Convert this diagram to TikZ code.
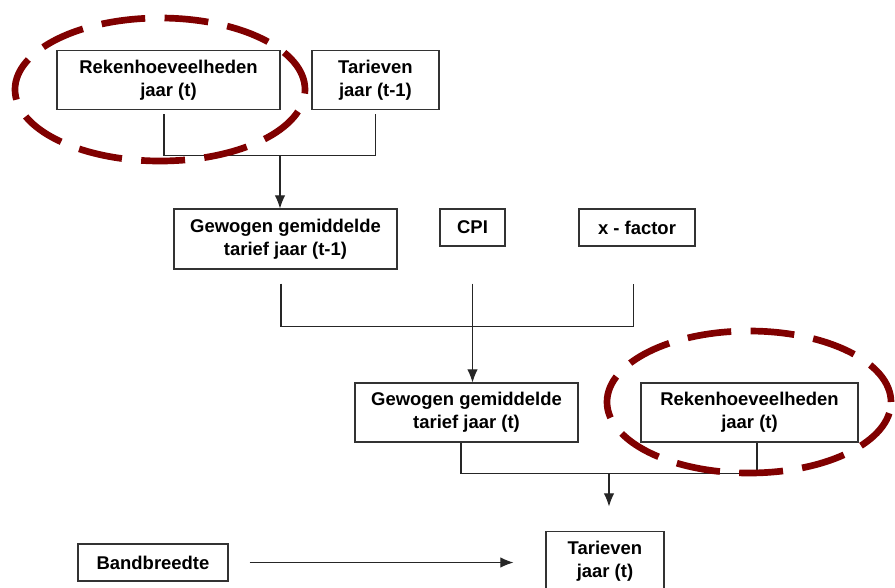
\documentclass[tikz,border=0pt]{standalone}
\usepackage{fontspec}
\setmainfont{Liberation Sans}
\usepackage{xcolor}
\usetikzlibrary{positioning,calc,arrows.meta}
\definecolor{ovalred}{RGB}{128,0,0}

\begin{document}
\begin{tikzpicture}[
    node distance=1.5cm,
    box/.style={rectangle, draw=black!80, line width=0.6pt, align=center, inner sep=0pt, font=\fontsize{10.5}{13}\selectfont\bfseries},
    widebox/.style={box, minimum width=4.46cm, minimum height=1.18cm},
    smallbox/.style={box, minimum height=0.74cm},
    link/.style={draw=black!85, line width=0.6pt},
    arrow/.style={link, -{Latex[length=7.5pt,width=6pt]}},
    oval/.style={draw=ovalred, line width=3.8pt, dash pattern=on 25pt off 11pt}
]
\useasboundingbox (0,0) rectangle (17.9,-11.74);

% Inputs year t-1
\node[widebox] (rek1) at (3.37,-1.60) {Rekenhoeveelheden\\jaar (t)};
\node[box, minimum width=2.54cm, minimum height=1.18cm, right of=rek1, xshift=2.64cm] (tar1) {Tarieven\\jaar (t-1)};

% Weighted average and factors
\node[widebox, minimum height=1.2cm, below of=rek1, xshift=2.34cm, yshift=-1.68cm] (ggt1) {Gewogen gemiddelde\\tarief jaar (t-1)};
\node[smallbox, minimum width=1.3cm, right of=ggt1, xshift=2.24cm, yshift=0.23cm] (cpi) {CPI};
\node[smallbox, minimum width=2.32cm, right of=cpi, xshift=1.79cm] (xfactor) {x - factor};

% Year t
\node[widebox, below of=ggt1, xshift=3.62cm, yshift=-1.97cm] (ggt2) {Gewogen gemiddelde\\tarief jaar (t)};
\node[box, minimum width=4.34cm, minimum height=1.18cm, right of=ggt2, xshift=4.16cm] (rek2) {Rekenhoeveelheden\\jaar (t)};

% Result
\node[box, minimum width=2.36cm, minimum height=1.18cm, below of=ggt2, xshift=2.77cm, yshift=-1.47cm] (tar2) {Tarieven\\jaar (t)};
\node[smallbox, minimum width=3.0cm, left of=tar2, xshift=-7.54cm, yshift=-0.03cm] (band) {Bandbreedte};

% Connections
\coordinate (j1) at ($(ggt1.north)+(-0.11,1.06)$);
\draw[link] ($(rek1.south)+(-0.09,-0.08)$) |- (j1) -| ($(tar1.south)+(0,-0.08)$);
\draw[arrow] (j1) -- ($(ggt1.north)+(-0.11,0)$);

\coordinate (j2) at ($(cpi.south)+(0,-1.6)$);
\draw[link] ($(ggt1.south)+(-0.09,-0.28)$) |- (j2) -| ($(xfactor.south)+(-0.07,-0.74)$);
\draw[arrow] ($(cpi.south)+(0,-0.74)$) -- (cpi.south |- ggt2.north);

\coordinate (j3) at ($(tar2.north)+(0.08,1.15)$);
\draw[link] ($(ggt2.south)+(-0.11,0)$) |- (j3) -| ($(rek2.south)+(0.15,0)$);
\draw[arrow] (j3) -- ($(tar2.north)+(0.08,0.49)$);

\draw[arrow] ($(band.east)+(0.42,0)$) -- ($(tar2.west |- band.east)+(-0.64,0)$);

% Highlights
\draw[oval] ($(rek1)+(-0.17,-0.19)$) ellipse [x radius=2.9cm, y radius=1.43cm];
\draw[oval] ($(rek2)+(-0.01,0.21)$) ellipse [x radius=2.84cm, y radius=1.42cm];

\end{tikzpicture}
\end{document}
